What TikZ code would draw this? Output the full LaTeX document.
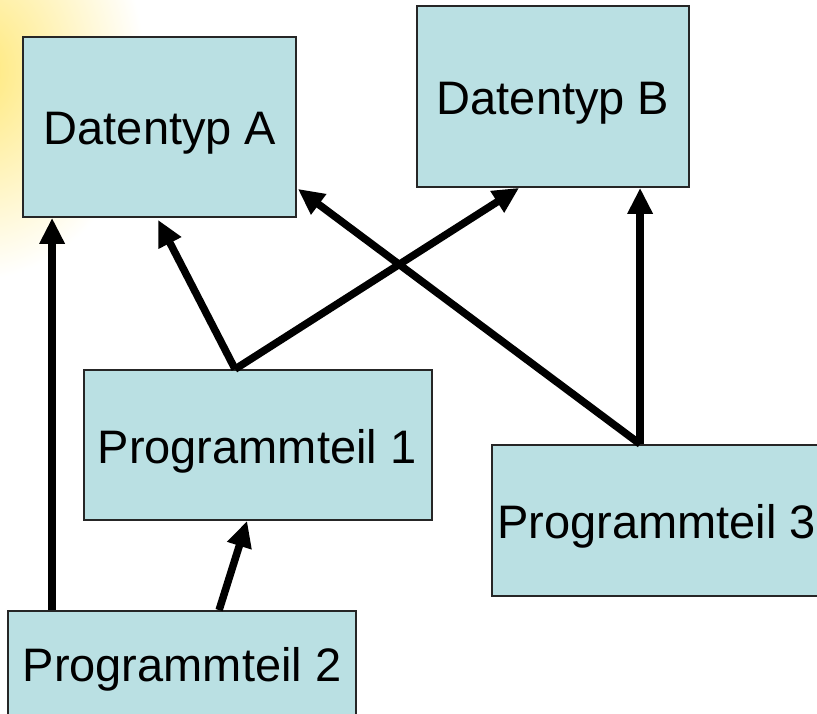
\documentclass[tikz,border=0pt]{standalone}
\usepackage{fontspec}
\setmainfont{Liberation Sans}
\usetikzlibrary{arrows.meta}
\definecolor{boxfill}{RGB}{186,224,227}
\definecolor{glow}{RGB}{255,232,120}
\tikzset{
  box/.style={draw=black!85, line width=1.8pt, fill=boxfill, inner sep=0pt},
  lbl/.style={font=\fontsize{47}{56}\selectfont, inner sep=0pt},
  link/.style={line width=7.5pt, -{Triangle[length=26pt, width=24pt]}}
}
\begin{document}
\begin{tikzpicture}[x=1pt, y=-1pt]
  \useasboundingbox (0,0) rectangle (817,714);
  \clip (0,0) rectangle (817,714);
  % soft glow in the upper left corner
  \shade[inner color=glow, outer color=white] (-25,70) ellipse (170 and 210);

  % data types
  \node[box, minimum width=273pt, minimum height=180pt] (a) at (159.5,127) {};
  \node[lbl] (atext) at (160,133) {Datentyp A};
  \node[box, minimum width=272pt, minimum height=181pt] (b) at (553,96.5) {};
  \node[lbl] (btext) at (553,103) {Datentyp B};

  % program parts
  \node[box, minimum width=348pt, minimum height=150pt] (p1) at (258,445) {};
  \node[lbl] (p1text) at (257,451) {Programmteil 1};
  \node[box, minimum width=348pt, minimum height=151pt] (p3) at (666,520.5) {};
  \node[lbl, anchor=west] (p3text) at (497,526) {Programmteil 3};
  \node[box, minimum width=348pt, minimum height=150pt] (p2) at (182,686) {};
  \node[lbl] (p2text) at (182,669) {Programmteil 2};

  % dependencies
  \draw[link] ([xshift=45pt]p2.north west) -- ([xshift=30pt]a.south west);
  \draw[link] ([xshift=212pt]p2.north west) -- ([xshift=164pt]p1.south west);
  \draw[link] ([xshift=152pt]p1.north west) -- ([xshift=136pt,yshift=-2pt]a.south west);
  \draw[link] ([xshift=152pt]p1.north west) -- ([xshift=103pt]b.south west);
  \draw[link] ([xshift=149pt]p3.north west) -- ([xshift=1pt,yshift=29pt]a.south east);
  \draw[link] ([xshift=149pt]p3.north west) -- ([xshift=224pt]b.south west);
\end{tikzpicture}
\end{document}
